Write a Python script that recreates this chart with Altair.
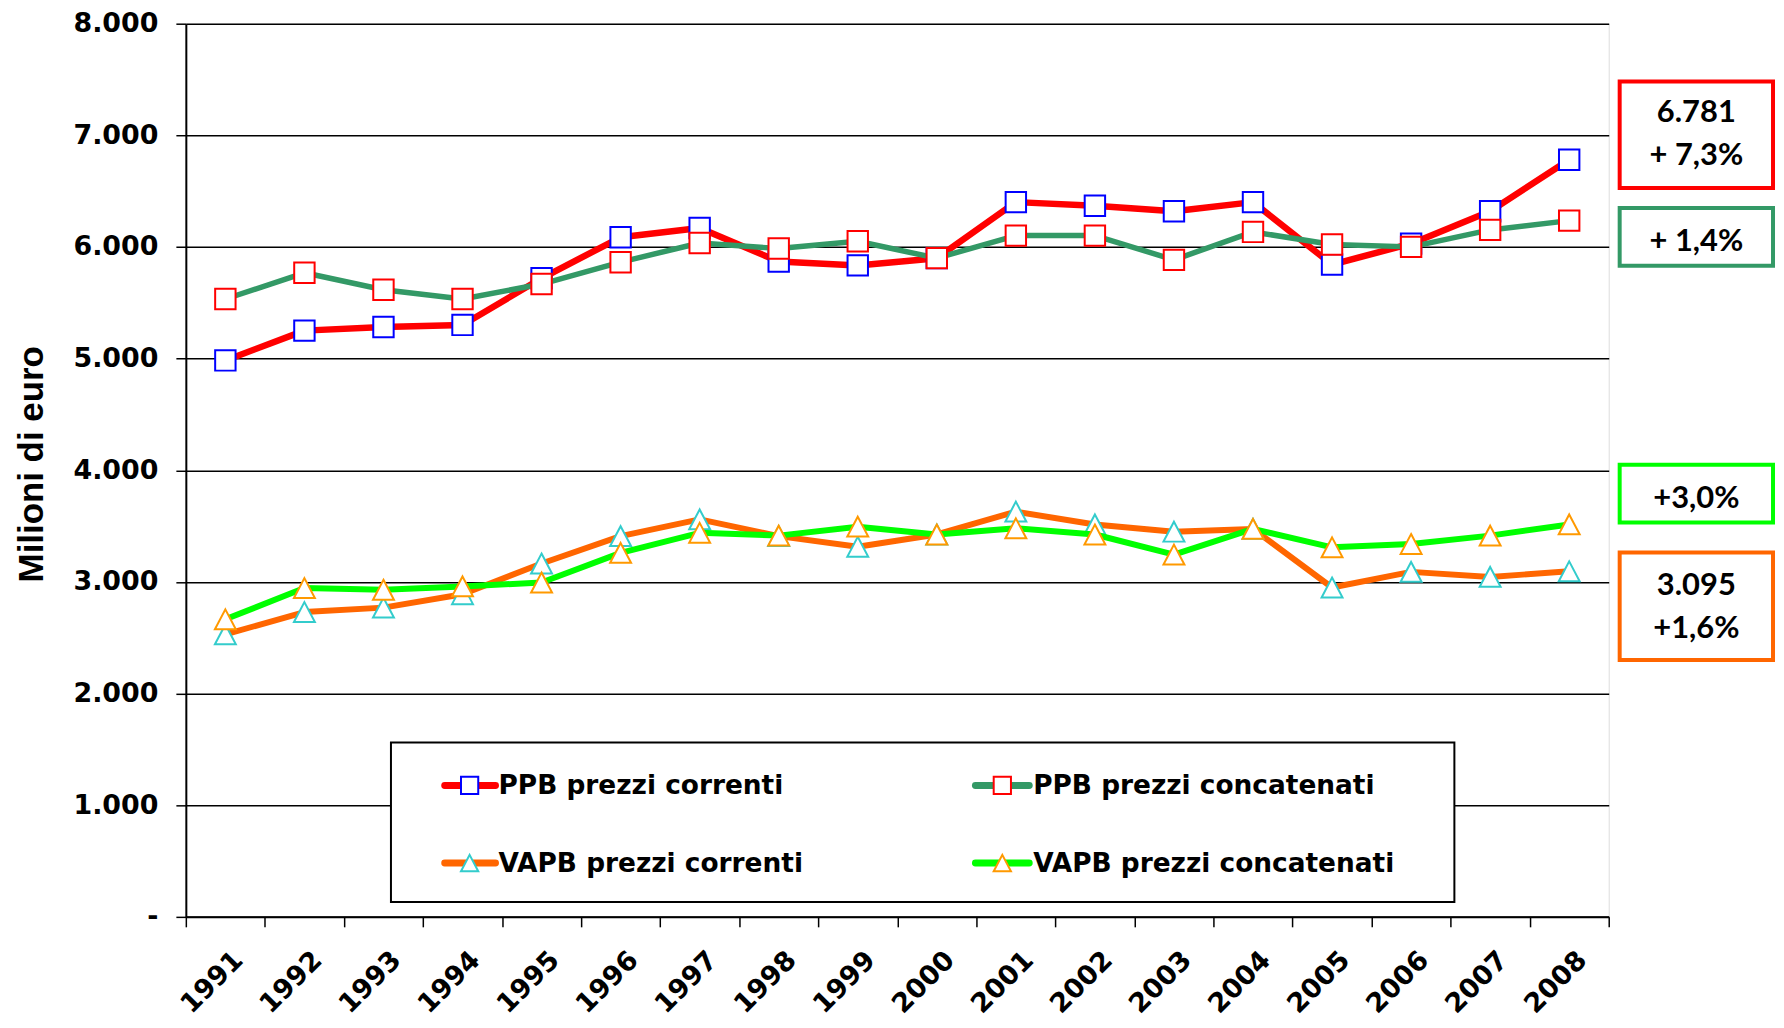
import altair as alt
import pandas as pd

# ---------------- data ----------------
anni = ["1991", "1992", "1993", "1994", "1995", "1996", "1997", "1998", "1999",
        "2000", "2001", "2002", "2003", "2004", "2005", "2006", "2007", "2008"]

serie = ["PPB prezzi correnti", "PPB prezzi concatenati",
         "VAPB prezzi correnti", "VAPB prezzi concatenati"]

ppb_correnti = [4984, 5251, 5284, 5302, 5720, 6087, 6170, 5870, 5835,
                5900, 6402, 6370, 6320, 6402, 5843, 6030, 6320, 6781]
ppb_concatenati = [5534, 5769, 5617, 5534, 5668, 5864, 6036, 5986, 6051,
                   5900, 6102, 6102, 5885, 6135, 6022, 6001, 6153, 6236]
vapb_correnti = [2530, 2730, 2770, 2890, 3165, 3410, 3560, 3410, 3315,
                 3425, 3630, 3515, 3450, 3475, 2950, 3090, 3045, 3095]
vapb_concatenati = [2665, 2945, 2930, 2960, 2995, 3260, 3440, 3415, 3495,
                    3425, 3480, 3425, 3245, 3475, 3310, 3340, 3415, 3515]

y_ticks = [0, 1000, 2000, 3000, 4000, 5000, 6000, 7000, 8000]

box_texts = [["6.781", "+ 7,3%"], ["+ 1,4%"], ["+3,0%"], ["3.095", "+1,6%"]]

# ---------------- styles ----------------
line_colors = ["#FF0000", "#339966", "#FF6600", "#00FF00"]
line_widths = [6.5, 5.5, 6, 6]
marker_strokes = ["#0000FF", "#FF0000", "#33CCCC", "#FF9900"]
TRI = "M0,-0.95L1,0.95L-1,0.95Z"
marker_shapes = ["square", "square", TRI, TRI]
marker_sizes = [420, 420, 441, 441]

W, H = 1429, 897

values_by_series = [ppb_correnti, ppb_concatenati, vapb_correnti, vapb_concatenati]
df = pd.DataFrame({
    "Anno": [a for _ in serie for a in anni],
    "Serie": [s for s in serie for _ in anni],
    "Valore": [v for vals in values_by_series for v in vals],
})

x_enc = alt.X(
    "Anno:N", sort=anni,
    scale=alt.Scale(type="band", paddingInner=0, paddingOuter=0),
    axis=alt.Axis(
        title=None, tickBand="extent", tickSize=10, tickColor="black", tickWidth=1.5,
        domainColor="black", domainWidth=2, grid=False,
        labelAngle=-45, labelAlign="right", labelBaseline="middle",
        labelPadding=29, labelOffset=13, labelOverlap=False, labelFlush=False,
        labelFont="DejaVu Sans", labelFontWeight="bold", labelFontSize=27,
        labelColor="black",
    ),
)
y_enc = alt.Y(
    "Valore:Q",
    scale=alt.Scale(domain=[0, 8000], nice=False, zero=True),
    axis=alt.Axis(
        values=y_ticks,
        labelExpr="datum.value == 0 ? '-' : replace(format(datum.value, ','), ',', '.')",
        grid=True, gridColor="black", gridWidth=1.5,
        tickSize=10, tickColor="black", tickWidth=1.5,
        domainColor="black", domainWidth=2,
        labelFont="DejaVu Sans", labelFontWeight="bold", labelFontSize=27,
        labelColor="black", labelPadding=18,
        title="Milioni di euro", titleFont="Liberation Sans",
        titleFontWeight="bold", titleFontSize=35, titleColor="black",
        titleX=-144, titleY=442, titleAlign="center", titleBaseline="alphabetic",
    ),
)

base = alt.Chart(df)
layers = []
for i, s in enumerate(serie):
    sub = base.transform_filter(alt.datum.Serie == s)
    layers.append(
        sub.mark_line(color=line_colors[i], strokeWidth=line_widths[i],
                      strokeJoin="round", strokeCap="round").encode(x=x_enc, y=y_enc)
    )
    layers.append(
        sub.mark_point(shape=marker_shapes[i], size=marker_sizes[i], filled=True,
                       fill="white", stroke=marker_strokes[i], strokeWidth=2,
                       opacity=1).encode(x=x_enc, y=y_enc)
    )

one = pd.DataFrame({"k": [0]})

# ---------------- legend (drawn box) ----------------
layers.append(
    alt.Chart(one).mark_rect(fill="white", stroke="black", strokeWidth=2).encode(
        x=alt.value(206), x2=alt.value(1274), y=alt.value(722), y2=alt.value(882)
    )
)
leg_cols = [(260, 311, 285, 314), (793, 847, 820, 851)]
leg_rows = [765, 843]
for i, s in enumerate(serie):
    lx1, lx2, mx, tx = leg_cols[i % 2]
    ly = leg_rows[i // 2]
    layers.append(
        alt.Chart(one).mark_rule(color=line_colors[i], strokeWidth=7, strokeCap="round").encode(
            x=alt.value(lx1), x2=alt.value(lx2), y=alt.value(ly)
        )
    )
    layers.append(
        alt.Chart(one).mark_point(shape=marker_shapes[i], size=300, filled=True,
                                  fill="white", stroke=marker_strokes[i], strokeWidth=2,
                                  opacity=1).encode(x=alt.value(mx), y=alt.value(ly))
    )
    layers.append(
        alt.Chart(one).mark_text(align="left", baseline="middle", font="DejaVu Sans",
                                 fontWeight="bold", fontSize=26.5, color="black").encode(
            x=alt.value(tx), y=alt.value(ly + 1), text=alt.value(s)
        )
    )

# ---------------- annotation boxes ----------------
box_colors = ["#FF0000", "#339966", "#00FF00", "#FF6600"]
box_y = [(58, 165), (185, 243), (443, 501), (531, 639)]
text_y = [90, 219, 477, 565]
bx1, bx2 = 1440, 1594
for i, t in enumerate(box_texts):
    y1, y2 = box_y[i]
    layers.append(
        alt.Chart(one).mark_rect(fill="white", stroke=box_colors[i], strokeWidth=4).encode(
            x=alt.value(bx1), x2=alt.value(bx2), y=alt.value(y1), y2=alt.value(y2)
        )
    )
    layers.append(
        alt.Chart(one).mark_text(align="center", baseline="middle", font="Lato",
                                 fontWeight="bold", fontSize=31, lineHeight=43,
                                 color="black").encode(
            x=alt.value((bx1 + bx2) / 2), y=alt.value(text_y[i]),
            text=alt.value(t if len(t) > 1 else t[0])
        )
    )

chart = alt.layer(*layers).properties(
    width=W, height=H,
    autosize=alt.AutoSizeParams(type="none"),
    padding={"left": 178.6, "top": 13.6, "right": 168, "bottom": 101},
).configure_view(
    fill="#C0C0C0", stroke="#808080", strokeWidth=2
).configure(background="white")

chart.save("out.html", embed_options={"renderer": "svg", "actions": False})
